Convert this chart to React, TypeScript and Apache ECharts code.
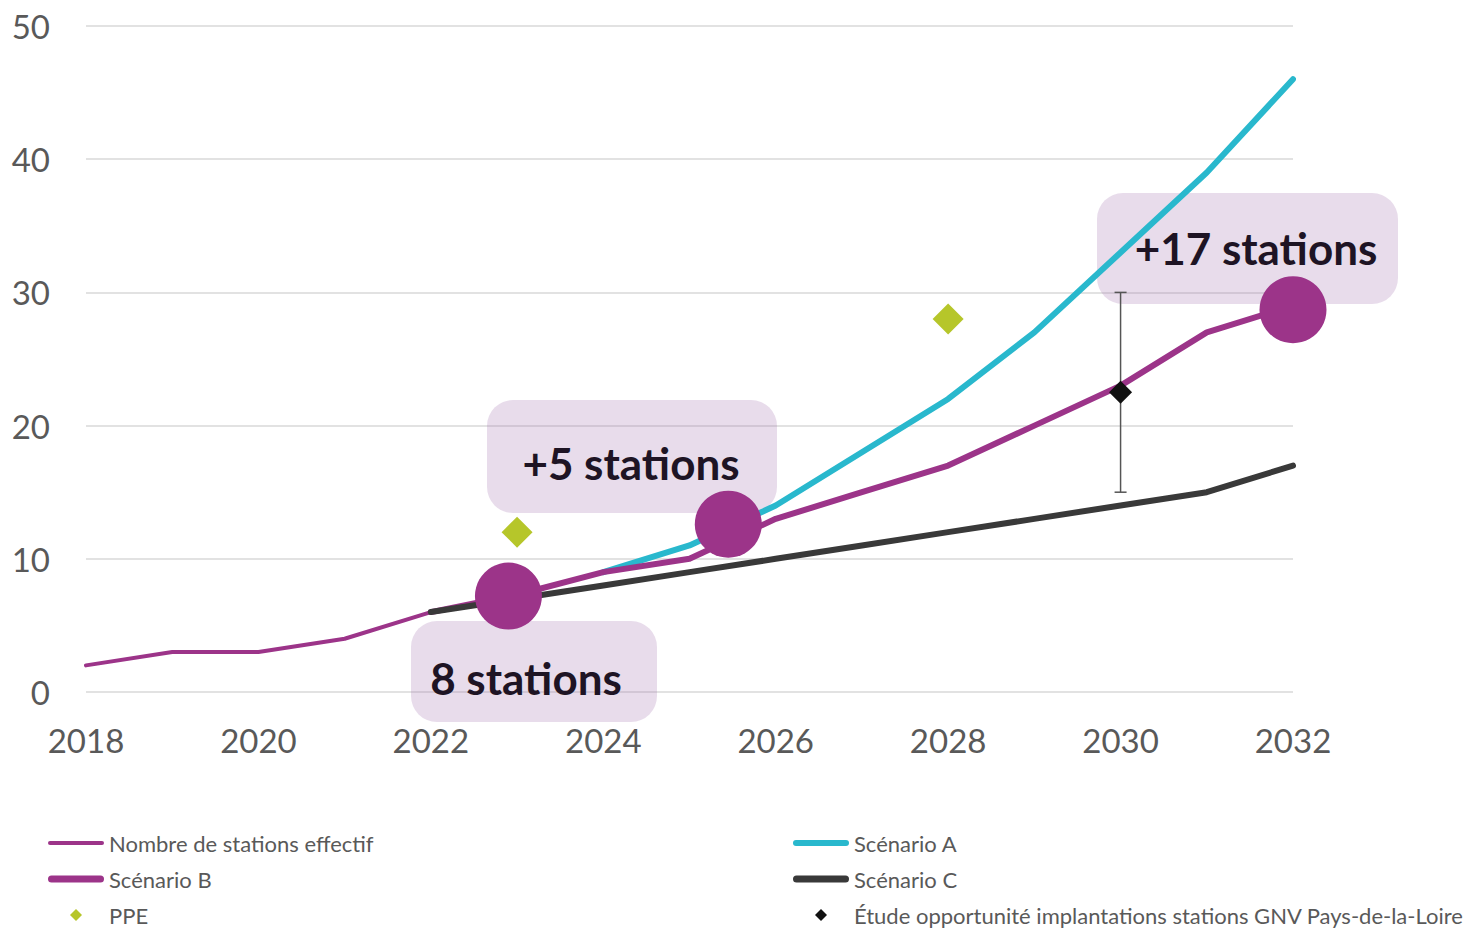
import React, { useEffect, useRef } from "react";
import * as echarts from "echarts";

// ---- data ----
const effectifYears = [2018, 2019, 2020, 2021, 2022];
const effectifValues = [2, 3, 3, 4, 6];

const scenarioAYears = [2024, 2025, 2026, 2027, 2028, 2029, 2030, 2031, 2032];
const scenarioAValues = [9, 11, 14, 18, 22, 27, 33, 39, 46];

const scenarioBYears = [2022, 2023, 2024, 2025, 2026, 2027, 2028, 2029, 2030, 2031, 2032];
const scenarioBValues = [6, 7.3, 9, 10, 13, 15, 17, 20, 23, 27, 29];

const scenarioCYears = [2022, 2023, 2024, 2025, 2026, 2027, 2028, 2029, 2030, 2031, 2032];
const scenarioCValues = [6, 7, 8, 9, 10, 11, 12, 13, 14, 15, 17];

const ppeYears = [2023, 2028];
const ppeValues = [12, 28];

const etudeYears = [2030];
const etudeValues = [22.5];
const etudeLow = [15];
const etudeHigh = [30];

const bubbleYears = [2022.9, 2025.45, 2032];
const bubbleValues = [7.2, 12.6, 28.7];

const annotationTexts = ["8 stations", "+5 stations", "+17 stations"];

const xTicks = { min: 2018, max: 2032, interval: 2 };
const yTicks = { min: 0, max: 50, interval: 10 };

const NAMES = {
  effectif: "Nombre de stations effectif",
  a: "Scénario A",
  b: "Scénario B",
  c: "Scénario C",
  ppe: "PPE",
  etude: "Étude opportunité implantations stations GNV Pays-de-la-Loire",
};

const zip = (xs: number[], ys: number[]) => xs.map((x, i) => [x, ys[i]]);

const PURPLE = "#9C3489";
const CYAN = "#29B8CD";
const DARK = "#393939";
const GREEN = "#B6C62A";
const FONT = "Lato, 'Open Sans', sans-serif";

const ICON_THIN = "path://M2,0 L54,0 A2,2 0 0 1 54,4 L2,4 A2,2 0 0 1 2,0 Z";
const ICON_THICK = "path://M3.5,0 L52.5,0 A3.5,3.5 0 0 1 52.5,7 L3.5,7 A3.5,3.5 0 0 1 3.5,0 Z";
const ICON_MID = "path://M3,0 L53,0 A3,3 0 0 1 53,6 L3,6 A3,3 0 0 1 3,0 Z";
const ICON_DIAMOND = "path://M6,0 L12,6 L6,12 L0,6 Z";

export default function App() {
  const ref = useRef<HTMLDivElement>(null);

  useEffect(() => {
    if (!ref.current) return;
    const chart = echarts.init(ref.current, undefined, { renderer: "svg" });

    const boxFill = "rgba(160,110,170,0.24)";
    const boxes = [
      { x: 411, y: 621, w: 246, h: 101, tx: 526, ty: 678 },
      { x: 487, y: 400, w: 290, h: 113, tx: 631, ty: 463 },
      { x: 1097, y: 193, w: 301, h: 111, tx: 1256, ty: 248 },
    ];

    const graphics: any[] = [];
    boxes.forEach((b, i) => {
      graphics.push({
        type: "rect",
        z: 1,
        shape: { x: b.x, y: b.y, width: b.w, height: b.h, r: 26 },
        style: { fill: boxFill },
      });
      graphics.push({
        type: "text",
        z: 50,
        x: b.tx,
        y: b.ty,
        style: {
          text: annotationTexts[i],
          fill: "#1E1424",
          font: `bold 44px ${FONT}`,
          textAlign: "center",
          textVerticalAlign: "middle",
        },
      });
    });

    const legendText = {
      color: "#595959",
      fontSize: 22,
      fontFamily: FONT,
      lineHeight: 22,
    };

    const legendBase = {
      top: 832,
      orient: "vertical",
      itemWidth: 56,
      itemHeight: 12,
      itemGap: 14,
      padding: 0,
      height: 120,
      selectedMode: false,
      symbolKeepAspect: true,
      textStyle: legendText,
    };

    chart.setOption({
      animation: false,
      backgroundColor: "#ffffff",
      grid: { left: 86, right: 175, top: 26, bottom: 236, containLabel: false },
      xAxis: {
        type: "value",
        min: xTicks.min,
        max: xTicks.max,
        interval: xTicks.interval,
        axisLine: { show: false },
        axisTick: { show: false },
        splitLine: { show: false },
        axisLabel: {
          color: "#595959",
          fontSize: 33,
          fontFamily: FONT,
          margin: 31,
          formatter: (v: number) => String(v),
        },
      },
      yAxis: {
        type: "value",
        min: yTicks.min,
        max: yTicks.max,
        interval: yTicks.interval,
        axisLine: { show: false },
        axisTick: { show: false },
        splitLine: { lineStyle: { color: "#D9D9D9", width: 1.5 } },
        axisLabel: { color: "#595959", fontSize: 33, fontFamily: FONT, margin: 36 },
      },
      legend: [
        {
          ...legendBase,
          left: 48,
          data: [
            { name: NAMES.effectif, icon: ICON_THIN },
            { name: NAMES.b, icon: ICON_THICK },
            { name: NAMES.ppe, icon: ICON_DIAMOND },
          ],
        },
        {
          ...legendBase,
          left: 793,
          data: [
            { name: NAMES.a, icon: ICON_MID },
            { name: NAMES.c, icon: ICON_THICK },
            { name: NAMES.etude, icon: ICON_DIAMOND },
          ],
        },
      ],
      graphic: graphics,
      series: [
        {
          name: NAMES.effectif,
          type: "line",
          symbol: "none",
          z: 3,
          data: zip(effectifYears, effectifValues),
          lineStyle: { color: PURPLE, width: 4, cap: "round", join: "round" },
          itemStyle: { color: PURPLE },
        },
        {
          name: NAMES.a,
          type: "line",
          symbol: "none",
          z: 3,
          data: zip(scenarioAYears, scenarioAValues),
          lineStyle: { color: CYAN, width: 6, cap: "round", join: "round" },
          itemStyle: { color: CYAN },
        },
        {
          name: NAMES.b,
          type: "line",
          symbol: "none",
          z: 4,
          data: zip(scenarioBYears, scenarioBValues),
          lineStyle: { color: PURPLE, width: 6, cap: "round", join: "round" },
          itemStyle: { color: PURPLE },
        },
        {
          name: NAMES.c,
          type: "line",
          symbol: "none",
          z: 5,
          data: zip(scenarioCYears, scenarioCValues),
          lineStyle: { color: DARK, width: 6, cap: "round", join: "round" },
          itemStyle: { color: DARK },
        },
        {
          name: "errorbar",
          type: "custom",
          z: 6,
          silent: true,
          data: etudeYears.map((x, i) => [x, etudeLow[i], etudeHigh[i]]),
          renderItem: (params: any, api: any) => {
            const lo = api.coord([api.value(0), api.value(1)]);
            const hi = api.coord([api.value(0), api.value(2)]);
            const cw = 6;
            const style = { stroke: "#555555", lineWidth: 1.5 };
            return {
              type: "group",
              children: [
                { type: "line", shape: { x1: lo[0], y1: lo[1], x2: hi[0], y2: hi[1] }, style },
                { type: "line", shape: { x1: lo[0] - cw, y1: lo[1], x2: lo[0] + cw, y2: lo[1] }, style },
                { type: "line", shape: { x1: hi[0] - cw, y1: hi[1], x2: hi[0] + cw, y2: hi[1] }, style },
              ],
            };
          },
        },
        {
          name: NAMES.ppe,
          type: "scatter",
          symbol: "diamond",
          symbolSize: 31,
          z: 7,
          data: zip(ppeYears, ppeValues),
          itemStyle: { color: GREEN, opacity: 1 },
        },
        {
          name: NAMES.etude,
          type: "scatter",
          symbol: "diamond",
          symbolSize: 23,
          z: 8,
          data: zip(etudeYears, etudeValues),
          itemStyle: { color: "#111111", opacity: 1 },
        },
        {
          name: "bubbles",
          type: "scatter",
          symbol: "circle",
          symbolSize: 67,
          z: 9,
          data: zip(bubbleYears, bubbleValues),
          itemStyle: { color: PURPLE, opacity: 1 },
        },
      ],
    });

    return () => chart.dispose();
  }, []);

  return (
    <div
      ref={ref}
      style={{ position: "absolute", left: 0, top: 0, width: 1468, height: 928 }}
    />
  );
}
